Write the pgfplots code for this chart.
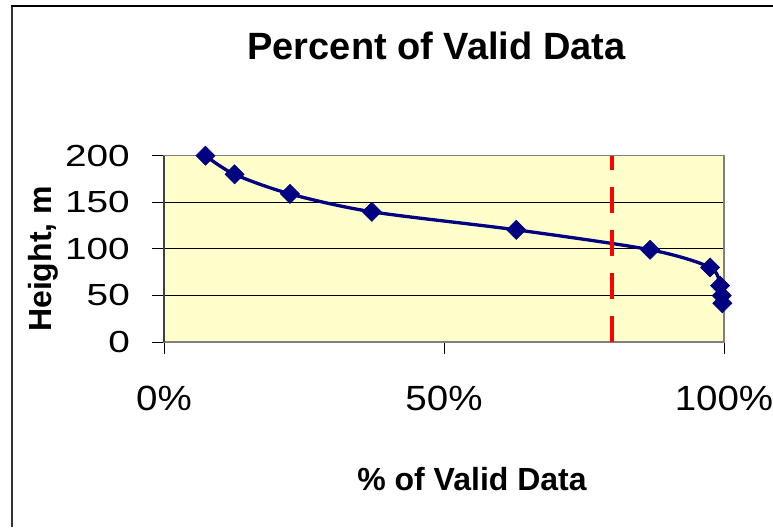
\documentclass[border=0pt]{standalone}
\usepackage{pgfplots}
\pgfplotsset{compat=1.18}
\usepackage{fontspec}
\setmainfont{Liberation Sans}
\newfontfamily\ytf[FakeStretch=1.27]{Liberation Sans}
\newfontfamily\xtf[FakeStretch=1.1]{Liberation Sans}
\definecolor{bgyellow}{HTML}{FFFFCC}
\definecolor{navyc}{HTML}{000080}
\definecolor{framegray}{HTML}{808080}
\begin{document}
\begin{tikzpicture}
\path[use as bounding box] (0,0) rectangle (773pt,527pt);
\draw[line width=2pt, color=black!80] (12pt,0) -- (12pt,521pt);
\draw[line width=1.2pt] (11pt,521pt) -- (773pt,521pt);
\begin{axis}[
  at={(164pt,185pt)}, anchor=south west,
  scale only axis, width=560pt, height=186.3pt,
  xmin=0, xmax=100, ymin=0, ymax=200,
  xtick={0,50,100}, ytick={0,50,100,150,200},
  xticklabels={}, yticklabels={},
  tick align=outside, tick pos=left,
  major tick length=12pt,
  tick style={black, line width=0.8pt},
  axis background/.style={fill=bgyellow},
  axis line style={draw=framegray, line width=1.5pt},
  ymajorgrids, grid style={black, line width=0.9pt},
  clip=false,
]
\addplot[navyc, line width=3.3pt, smooth, mark=square*, mark size=6.8pt,
  mark options={rotate=45, solid, line width=0.5pt, fill=navyc}]
  coordinates {(7.4,200) (12.6,180) (22.5,159) (37.1,139.8) (62.9,120.4)
               (86.8,99) (97.5,80) (99.3,60.5) (99.6,49.8) (99.7,41.6)};
\addplot[red, line width=4pt, dash pattern=on 26pt off 17pt]
  coordinates {(80,0) (80,200)};
\draw[black!75, line width=2pt] (axis cs:0,0) -- (axis cs:0,200);
\node[anchor=east, inner sep=0pt, font=\ytf\fontsize{30.5pt}{36pt}\selectfont] at ([xshift=-34pt]axis cs:0,200) {200};
\node[anchor=east, inner sep=0pt, font=\ytf\fontsize{30.5pt}{36pt}\selectfont] at ([xshift=-34pt]axis cs:0,150) {150};
\node[anchor=east, inner sep=0pt, font=\ytf\fontsize{30.5pt}{36pt}\selectfont] at ([xshift=-34pt]axis cs:0,100) {100};
\node[anchor=east, inner sep=0pt, font=\ytf\fontsize{30.5pt}{36pt}\selectfont] at ([xshift=-34pt]axis cs:0,50) {50};
\node[anchor=east, inner sep=0pt, font=\ytf\fontsize{30.5pt}{36pt}\selectfont] at ([xshift=-34pt]axis cs:0,0) {0};
\node[anchor=base, inner sep=0pt, font=\xtf\fontsize{35pt}{42pt}\selectfont] at ([yshift=-69pt]axis cs:0,0) {0\%};
\node[anchor=base, inner sep=0pt, font=\xtf\fontsize{35pt}{42pt}\selectfont] at ([yshift=-69pt]axis cs:50,0) {50\%};
\node[anchor=base, inner sep=0pt, font=\xtf\fontsize{35pt}{42pt}\selectfont] at ([yshift=-69pt]axis cs:100,0) {100\%};
\end{axis}
\node[anchor=base, inner sep=0pt, font=\bfseries\fontsize{38pt}{44pt}\selectfont] at (436.5pt,467.7pt) {Percent of Valid Data};
\node[anchor=base, inner sep=0pt, font=\bfseries\fontsize{32pt}{38pt}\selectfont] at (472pt,36.3pt) {\% of Valid Data};
\node[anchor=base, rotate=90, inner sep=0pt, font=\bfseries\fontsize{32pt}{38pt}\selectfont] at (51.7pt,268pt) {Height, m};
\end{tikzpicture}
\end{document}
